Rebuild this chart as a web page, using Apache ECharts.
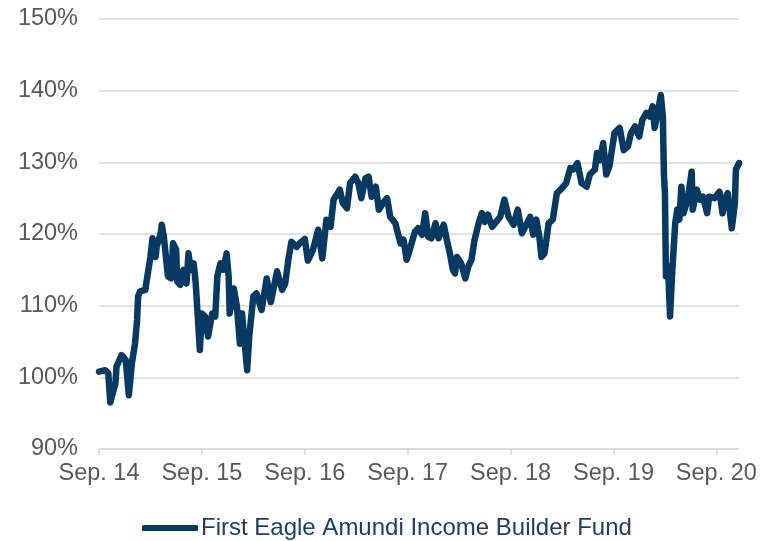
<!DOCTYPE html>
<html lang="en">
<head>
<meta charset="UTF-8" />
<title>First Eagle Amundi Income Builder Fund</title>
<script src="https://cdn.jsdelivr.net/npm/echarts@6/dist/echarts.min.js"></script>
<style>
  html, body { margin: 0; padding: 0; background: #fff; }
  #main { width: 769px; height: 541px; }
</style>
</head>
<body>
<div id="main"></div>
<script>
// years since Sep. 2014
var years = [
  0.00, 0.06, 0.09, 0.11, 0.16, 0.17, 0.22, 0.26, 0.29, 0.32, 0.35, 0.37, 0.38, 0.40, 0.45, 0.47,
  0.50, 0.52, 0.55, 0.56, 0.60, 0.61, 0.63, 0.67, 0.70, 0.72, 0.75, 0.76, 0.79, 0.82, 0.85, 0.87,
  0.89, 0.92, 0.94, 0.96, 0.98, 1.00, 1.03, 1.06, 1.10, 1.13, 1.15, 1.18, 1.21, 1.24, 1.26, 1.27,
  1.31, 1.34, 1.37, 1.39, 1.41, 1.44, 1.46, 1.50, 1.53, 1.58, 1.63, 1.67, 1.73, 1.78, 1.81, 1.84,
  1.87, 1.92, 1.95, 2.00, 2.03, 2.08, 2.13, 2.17, 2.21, 2.25, 2.28, 2.32, 2.34, 2.37, 2.41, 2.44,
  2.49, 2.52, 2.55, 2.59, 2.62, 2.65, 2.69, 2.72, 2.76, 2.80, 2.83, 2.88, 2.93, 2.96, 2.99, 3.02,
  3.07, 3.10, 3.14, 3.17, 3.20, 3.23, 3.27, 3.30, 3.35, 3.38, 3.41, 3.44, 3.46, 3.48, 3.52, 3.56,
  3.59, 3.62, 3.65, 3.69, 3.72, 3.75, 3.78, 3.82, 3.86, 3.90, 3.94, 3.98, 4.03, 4.07, 4.11, 4.16,
  4.19, 4.22, 4.25, 4.28, 4.30, 4.33, 4.37, 4.41, 4.45, 4.50, 4.54, 4.58, 4.61, 4.65, 4.69, 4.74,
  4.77, 4.82, 4.84, 4.87, 4.90, 4.93, 4.96, 5.01, 5.06, 5.10, 5.14, 5.17, 5.21, 5.25, 5.28, 5.32,
  5.35, 5.38, 5.40, 5.43, 5.46, 5.48, 5.49, 5.50, 5.51, 5.53, 5.55, 5.57, 5.60, 5.62, 5.64, 5.66,
  5.68, 5.71, 5.73, 5.76, 5.77, 5.81, 5.84, 5.87, 5.91, 5.93, 5.98, 6.03, 6.06, 6.08, 6.11, 6.15,
  6.18, 6.19, 6.22
];

// fund value, % of start
var fund = [
  100.8, 101.0, 100.6, 96.5, 99.2, 101.5, 103.1, 102.4, 97.5, 102.0, 104.7, 108.0, 111.3, 112.0, 112.2, 114.1,
  116.8, 119.4, 116.8, 118.2, 120.1, 121.3, 119.6, 114.1, 113.8, 118.7, 117.8, 113.4, 112.9, 115.0, 113.1, 117.3,
  115.0, 115.9, 113.1, 108.5, 103.8, 108.9, 108.5, 105.7, 108.9, 108.5, 114.1, 115.9, 115.0, 117.3, 114.1, 108.9,
  112.4, 109.9, 104.7, 108.9, 105.7, 101.0, 105.7, 111.3, 111.7, 109.4, 113.8, 110.5, 114.8, 112.2, 113.1, 116.4,
  118.9, 118.2, 118.7, 119.3, 116.3, 117.8, 120.6, 116.6, 122.0, 121.0, 124.8, 125.7, 126.2, 124.3, 123.6, 127.1,
  128.0, 127.1, 125.0, 127.8, 128.0, 125.2, 126.6, 123.4, 124.3, 125.0, 122.4, 121.5, 118.7, 119.2, 116.4, 117.8,
  120.3, 120.8, 119.9, 122.9, 119.6, 119.4, 121.5, 119.4, 121.3, 119.2, 117.3, 115.0, 114.5, 116.8, 115.9, 113.8,
  115.5, 116.4, 119.2, 121.5, 122.9, 121.7, 122.7, 121.0, 121.7, 122.4, 124.8, 122.4, 121.3, 123.4, 120.1, 121.5,
  122.4, 119.9, 122.0, 119.6, 116.8, 117.3, 121.5, 122.0, 125.7, 126.4, 127.1, 129.2, 129.0, 129.9, 127.1, 126.6,
  128.3, 129.0, 131.3, 130.3, 132.7, 128.3, 129.4, 134.1, 134.8, 131.7, 132.2, 134.1, 135.0, 133.6, 135.9, 136.9,
  136.4, 137.8, 134.8, 136.9, 139.4, 136.4, 128.5, 125.7, 114.1, 115.5, 108.5, 114.5, 121.5, 123.4, 122.0, 126.6,
  122.9, 124.3, 125.7, 128.7, 123.4, 126.2, 124.8, 125.2, 122.9, 125.2, 125.0, 125.9, 122.9, 124.8, 125.7, 120.8,
  124.3, 129.0, 129.9
];

var tickYears = [0, 1, 2, 3, 4, 5, 6];
var seriesName = 'First Eagle Amundi Income Builder Fund';

var points = [];
for (var i = 0; i < years.length; i++) {
  points.push([years[i], fund[i]]);
}

var chart = echarts.init(document.getElementById('main'), null, { renderer: 'canvas' });
var font = "'Liberation Sans', Arial, sans-serif";

var option = {
  animation: false,
  backgroundColor: '#ffffff',
  grid: { left: 99, right: 30, top: 19, bottom: 92, containLabel: false },
  legend: {
    data: [seriesName],
    left: 142,
    top: 516,
    padding: 0,
    icon: 'roundRect',
    itemWidth: 56,
    itemHeight: 6,
    itemGap: 4,
    textStyle: { fontFamily: font, fontSize: 24, color: '#1b3f66', padding: [0, 0, 0, -2] }
  },
  xAxis: {
    type: 'value',
    min: 0,
    max: 6.22,
    axisLine: { show: true, lineStyle: { color: '#d9d9d9', width: 1.5 } },
    axisTick: { show: true, length: 6, customValues: tickYears, lineStyle: { color: '#d9d9d9', width: 1.5 } },
    axisLabel: {
      customValues: tickYears,
      margin: 13,
      fontFamily: font,
      fontSize: 23.5,
      color: '#595959',
      formatter: function (v) { return 'Sep. ' + (14 + Math.round(v)); }
    },
    splitLine: { show: false }
  },
  yAxis: {
    type: 'value',
    min: 90,
    max: 150,
    interval: 10,
    axisLine: { show: false },
    axisTick: { show: false },
    axisLabel: {
      margin: 21,
      fontFamily: font,
      fontSize: 23.5,
      color: '#595959',
      formatter: '{value}%'
    },
    splitLine: { lineStyle: { color: '#d9d9d9', width: 1.5 } }
  },
  series: [{
    name: seriesName,
    type: 'line',
    data: points,
    showSymbol: false,
    symbol: 'none',
    lineStyle: { color: '#063a62', width: 6.5, join: 'round', cap: 'round' },
    itemStyle: { color: '#063a62' }
  }]
};

chart.setOption(option);
</script>
</body>
</html>
